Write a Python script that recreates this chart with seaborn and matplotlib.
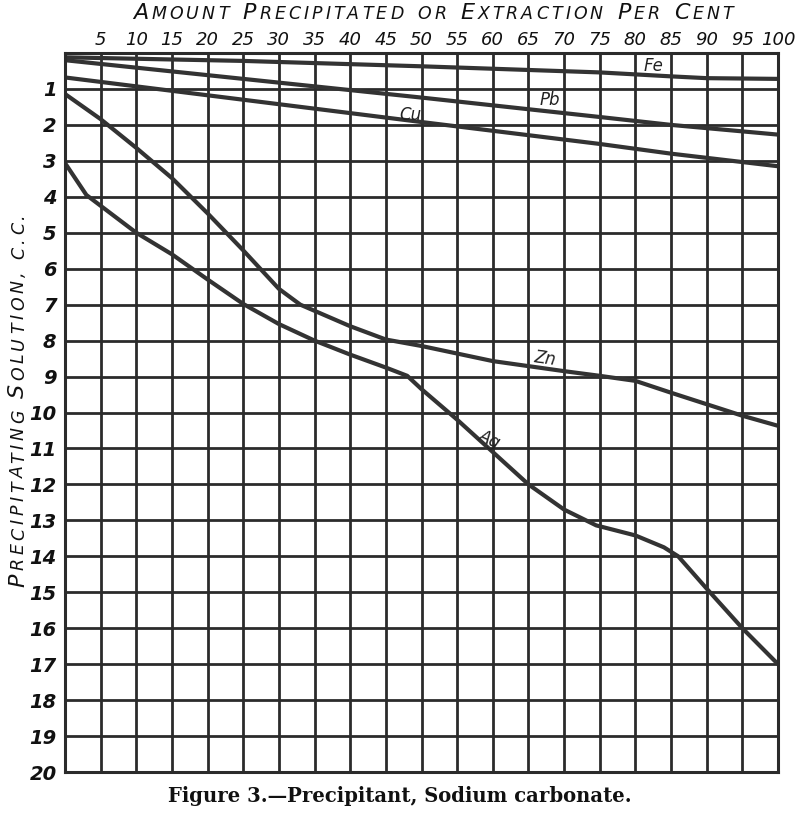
import numpy as np
import pandas as pd
import matplotlib
matplotlib.use("Agg")
import matplotlib.pyplot as plt
import seaborn as sns

# ---- data ----
fe_x = [0, 25, 50, 75, 85, 90, 100]
fe_y = [0.12, 0.22, 0.37, 0.54, 0.65, 0.70, 0.72]

pb_x = [0, 25, 50, 75, 85, 100]
pb_y = [0.20, 0.72, 1.24, 1.78, 2.00, 2.27]

cu_x = [0, 25, 50, 75, 85, 100]
cu_y = [0.68, 1.30, 1.92, 2.53, 2.80, 3.15]

zn_x = [0, 5, 10, 15, 20, 25, 30, 33, 40, 45, 50, 60, 70, 75, 80, 85, 95, 100]
zn_y = [1.14, 1.84, 2.64, 3.48, 4.46, 5.49, 6.56, 7.0, 7.6, 7.97, 8.15, 8.57,
        8.85, 8.98, 9.12, 9.45, 10.09, 10.37]

ag_x = [0, 3, 10, 15, 20, 25, 30, 35, 40, 45, 48, 50, 55, 60, 65, 70, 74.5,
        80, 84, 86, 90, 95, 100]
ag_y = [3.06, 3.95, 5.0, 5.6, 6.3, 6.98, 7.54, 8.0, 8.39, 8.75, 8.98, 9.35,
        10.2, 11.1, 12.0, 12.7, 13.14, 13.42, 13.75, 14.0, 14.9, 16.0, 17.0]

metals = ["Fe", "Pb", "Cu", "Zn", "Ag"]
label_pos = {"Fe": (82.5, 0.35), "Pb": (68.0, 1.30), "Cu": (48.5, 1.72),
             "Zn": (67.3, 8.5), "Ag": (59.5, 10.75)}

x_ticks = list(range(0, 101, 5))
x_ticklabels = [""] + [str(v) for v in range(5, 101, 5)]
y_ticks = list(range(0, 21))
y_ticklabels = [""] + [str(v) for v in range(1, 21)]

# small-caps titles: (word, capitalised-initial?)
x_title_words = [("Amount", True), ("Precipitated", True), ("or", False),
                 ("Extraction", True), ("Per", True), ("Cent", True)]
y_title_words = [("Precipitating", True), ("Solution,", True), ("c.c.", False)]
caption = "Figure 3.\u2014Precipitant, Sodium carbonate."

series = {"Fe": (fe_x, fe_y), "Pb": (pb_x, pb_y), "Cu": (cu_x, cu_y),
          "Zn": (zn_x, zn_y), "Ag": (ag_x, ag_y)}
frames = []
for m in metals:
    xs, ys = series[m]
    frames.append(pd.DataFrame({"pct": xs, "cc": ys, "metal": m}))
df = pd.concat(frames, ignore_index=True)

# ---- style ----
sns.set_style("white")
plt.rcParams["font.family"] = ["DejaVu Sans"]

W, H = 800, 813
ink = "#2b2b2b"
fig = plt.figure(figsize=(W / 100, H / 100), dpi=100)
ax = fig.add_axes([65 / W, 1 - 772 / H, 713 / W, 719 / H])

sns.lineplot(data=df, x="pct", y="cc", hue="metal", units="metal",
             estimator=None, sort=False, legend=False,
             palette={m: "#333333" for m in metals}, linewidth=3.0, ax=ax)

ax.set_xlim(0, 100)
ax.set_ylim(20, 0)
ax.set_xticks(x_ticks)
ax.set_yticks(y_ticks)
ax.xaxis.tick_top()
ax.set_xticklabels(x_ticklabels, fontsize=13, style="italic", color="#111")
ax.set_yticklabels(y_ticklabels, fontsize=14, style="italic",
                   fontweight="bold", color="#111")
ax.tick_params(axis="both", length=0)
ax.tick_params(axis="x", pad=3)
ax.tick_params(axis="y", pad=6)
ax.grid(True, color=ink, linewidth=2.0)
ax.set_axisbelow(True)
for s in ax.spines.values():
    s.set_color(ink)
    s.set_linewidth(2.2)
ax.set_xlabel("")
ax.set_ylabel("")

for m in metals:
    lx, ly = label_pos[m]
    rot = -25 if m == "Ag" else (-8 if m == "Zn" else 0)
    ax.text(lx, ly, m, fontsize=12, style="italic", color="#222",
            ha="center", va="center", rotation=rot)

renderer = fig.canvas.get_renderer()


def char_width(ch, size):
    if ch == " ":
        return 0.0
    t = fig.text(0, 0, ch, fontsize=size, style="italic")
    w = t.get_window_extent(renderer).width
    t.remove()
    return w


def smallcaps(words, start_px, end_px, base_px, big, small, vertical=False,
              space=10.0):
    chars = []
    for wi, (word, cap) in enumerate(words):
        if wi > 0:
            chars.append((" ", small))
        for ci, ch in enumerate(word):
            size = big if (cap and ci == 0) else small
            chars.append((ch.upper(), size))
    widths = [char_width(c, s) for c, s in chars]
    n_sp = sum(1 for c, _ in chars if c == " ")
    n_gaps = len(chars) - 1 - 2 * n_sp
    natural = sum(widths) + n_sp * space
    track = (abs(end_px - start_px) - natural) / max(n_gaps, 1)
    pos = 0.0
    for i, ((c, s), w) in enumerate(zip(chars, widths)):
        if c == " ":
            pos += space
            continue
        if vertical:
            fig.text(base_px / W, 1 - (start_px - pos) / H, c, fontsize=s,
                     style="italic", rotation=90, rotation_mode="anchor",
                     ha="left", va="baseline", color="#111")
        else:
            fig.text((start_px + pos) / W, 1 - base_px / H, c, fontsize=s,
                     style="italic", ha="left", va="baseline", color="#111")
        pos += w
        nxt = chars[i + 1][0] if i + 1 < len(chars) else " "
        if nxt != " ":
            pos += track


smallcaps(x_title_words, 133, 733, 19, 16, 12.5, space=14)
smallcaps(y_title_words, 587, 213, 24, 16, 12.5, vertical=True, space=12)

cap = fig.text(400 / W, 1 - 802 / H, caption, fontsize=10, fontweight="bold",
               family="DejaVu Serif", ha="center", va="baseline", color="#111")
wcap = cap.get_window_extent(renderer).width
cap.set_fontsize(10 * 466 / wcap)
cap.set_x(400 / W)

fig.savefig("out.png", dpi=100)
